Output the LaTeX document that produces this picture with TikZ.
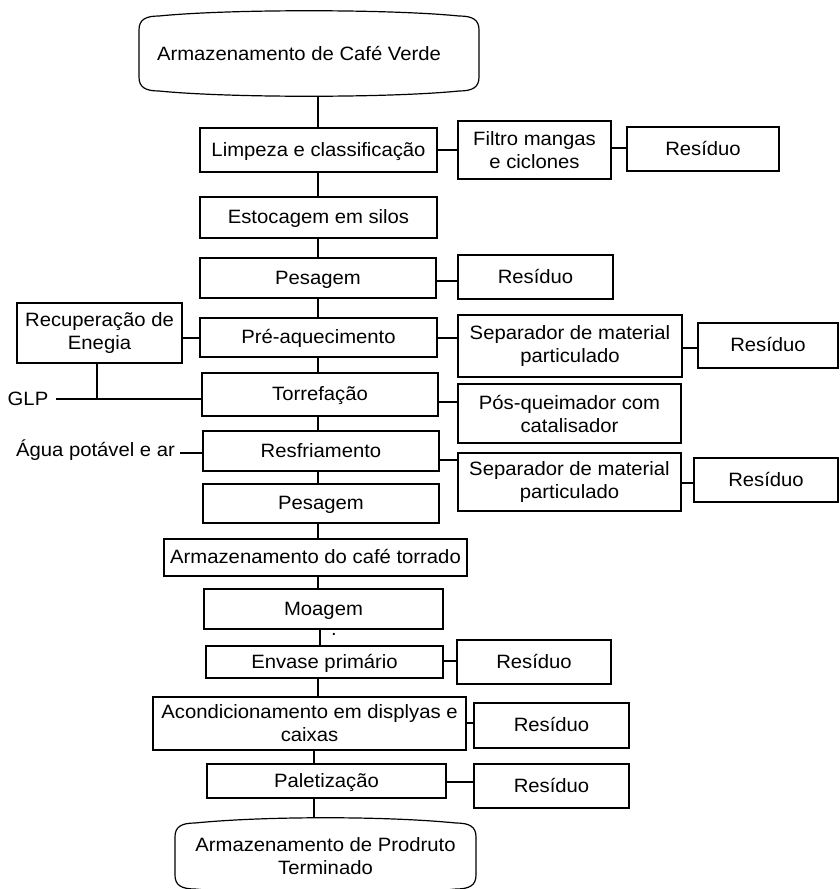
\documentclass[tikz,border=0pt]{standalone}
\usepackage{fontspec}
\setmainfont{Liberation Sans}[FakeStretch=1.05]
\newcommand{\termshape}[4]{%
  \draw[con] (#1,#2+20) .. controls (#1,#2+10) and (#1+6,#2+6) .. (#1+20,#2+6)
    .. controls (#1+90,#2-1) and (#3-90,#2-1) .. (#3-20,#2+6)
    .. controls (#3-6,#2+6) and (#3,#2+10) .. (#3,#2+20)
    -- (#3,#4-20) .. controls (#3,#4-10) and (#3-6,#4-6) .. (#3-20,#4-6)
    .. controls (#3-90,#4+1) and (#1+90,#4+1) .. (#1+20,#4-6)
    .. controls (#1+6,#4-6) and (#1,#4-10) .. (#1,#4-20) -- cycle;}
\begin{document}
\begin{tikzpicture}[x=1pt,y=-1pt,
  con/.style={line width=1.2pt, draw=black},
  box/.style={draw=black, line width=1.2pt, inner sep=0pt, align=center,
    font=\fontsize{19.3}{23}\selectfont},
  one/.style={box, text height=16pt, text depth=4pt},
  term/.style={inner sep=0pt, align=center, font=\fontsize{19.3}{23}\selectfont},
  lbl/.style={inner sep=0pt, font=\fontsize{19.3}{23}\selectfont},
  sz/.style 2 args={minimum width=#1pt, minimum height=#2pt}]
\useasboundingbox (0,0) rectangle (839,889);

% terminals
\termshape{139}{10}{479}{97}
\node[term, sz={340}{87}] (t1) at (309,53.5) {\raisebox{-8pt}{\hspace*{-20pt}Armazenamento de Café Verde}};
\termshape{175}{817}{476}{895}
\node[term, sz={301}{78}] (t2) at (325.5,856) {\raisebox{-4pt}{\parbox{290pt}{\centering Armazenamento de Prodruto\\Terminado}}};

% main column
\node[one, sz={237}{44}] (limp) at (318.5,150) {Limpeza e classificação};
\node[one, sz={237}{41}] (esto) at (318.5,217.5) {Estocagem em silos};
\node[one, sz={236}{40}] (pes1) at (318,278) {Pesagem};
\node[one, sz={237}{39}] (pre)  at (318.5,337.5) {Pré-aquecimento};
\node[one, sz={236}{43}] (torr) at (320,394.5) {Torrefação};
\node[one, sz={236}{40}] (resf) at (321,451) {Resfriamento};
\node[one, sz={236}{39}] (pes2) at (321,503.5) {Pesagem};
\node[one, sz={303}{37}] (arm2) at (315.5,557.5) {Armazenamento do café torrado};
\node[one, sz={239}{40}] (moa)  at (323.5,609) {Moagem};
\node[one, sz={237}{32}] (env)  at (324.5,662) {Envase primário};
\node[box, sz={313}{53}] (acond) at (309.5,723.5) {Acondicionamento em displyas e\\caixas};
\node[one, sz={239}{34}] (pal)  at (326.5,781) {Paletização};
\node[lbl] (dot) at (334,634) {.};

% side boxes
\node[box, sz={153}{58}] (filt) at (534.5,150) {Filtro mangas\\e ciclones};
\node[one, sz={152}{44}] (res1) at (703,149) {Resíduo};
\node[one, sz={155}{44}] (res2) at (535.5,277) {Resíduo};
\node[box, sz={165}{60}] (rec)  at (99.5,333) {Recuperação de\\Enegia};
\node[box, sz={224}{62}] (sep1) at (570,346) {Separador de material\\particulado};
\node[one, sz={140}{45}] (res3) at (768,345.5) {Resíduo};
\node[box, sz={223}{59}] (pos)  at (569.5,413.5) {Pós-queimador com\\catalisador};
\node[box, sz={223}{58}] (sep2) at (569.5,482) {Separador de material\\particulado};
\node[one, sz={144}{44}] (res4) at (766,480) {Resíduo};
\node[one, sz={154}{44}] (res5) at (534,662) {Resíduo};
\node[one, sz={155}{45}] (res6) at (551.5,725.5) {Resíduo};
\node[one, sz={155}{44}] (res7) at (551.5,786) {Resíduo};

% inputs
\node[lbl] (glp)  at (28,399) {GLP};
\node[lbl] (agua) at (95.5,450) {Água potável e ar};

% spine coordinates
\coordinate (sp1) at (318,0);
\coordinate (sp2) at (320,0);
\coordinate (sp3) at (314,0);
\draw[con] (t1.south -| sp1) -- (limp.north -| sp1);
\draw[con] (limp.south -| sp1) -- (esto.north -| sp1);
\draw[con] (esto.south -| sp1) -- (pes1.north -| sp1);
\draw[con] (pes1.south -| sp1) -- (pre.north -| sp1);
\draw[con] (pre.south -| sp1) -- (torr.north -| sp1);
\draw[con] (torr.south -| sp1) -- (resf.north -| sp1);
\draw[con] (resf.south -| sp1) -- (pes2.north -| sp1);
\draw[con] (pes2.south -| sp1) -- (arm2.north -| sp1);
\draw[con] (arm2.south -| sp1) -- (moa.north -| sp1);
\draw[con] (moa.south -| sp2) -- (env.north -| sp2);
\draw[con] (env.south -| sp1) -- (acond.north -| sp1);
\draw[con] (acond.south -| sp3) -- (pal.north -| sp3);
\draw[con] (pal.south -| sp3) -- (t2.north -| sp3);

% horizontal levels
\coordinate (h1) at (0,150);
\coordinate (h1b) at (0,148);
\coordinate (h2) at (0,281);
\coordinate (h3) at (0,338);
\coordinate (h3b) at (0,348);
\coordinate (h4) at (0,402);
\coordinate (h5) at (0,460);
\coordinate (h5b) at (0,483);
\coordinate (h6) at (0,661);
\coordinate (h7) at (0,723);
\coordinate (h8) at (0,782);
\coordinate (hg) at (0,399);
\coordinate (ha) at (0,453);
\coordinate (jg) at (97,399);

\draw[con] (limp.east |- h1) -- (filt.west |- h1);
\draw[con] (filt.east |- h1b) -- (res1.west |- h1b);
\draw[con] (pes1.east |- h2) -- (res2.west |- h2);
\draw[con] (rec.east |- h3) -- (pre.west |- h3);
\draw[con] (pre.east |- h3) -- (sep1.west |- h3);
\draw[con] (sep1.east |- h3b) -- (res3.west |- h3b);
\draw[con] (torr.east |- h4) -- (pos.west |- h4);
\draw[con] (resf.east |- h5) -- (sep2.west |- h5);
\draw[con] (sep2.east |- h5b) -- (res4.west |- h5b);
\draw[con] (env.east |- h6) -- (res5.west |- h6);
\draw[con] (acond.east |- h7) -- (res6.west |- h7);
\draw[con] (pal.east |- h8) -- (res7.west |- h8);

\draw[con] ([xshift=8pt]glp.east |- hg) -- (torr.west |- hg);
\draw[con] (rec.south -| jg) -- (jg);
\draw[con] ([xshift=5pt]agua.east |- ha) -- (resf.west |- ha);
\end{tikzpicture}
\end{document}
